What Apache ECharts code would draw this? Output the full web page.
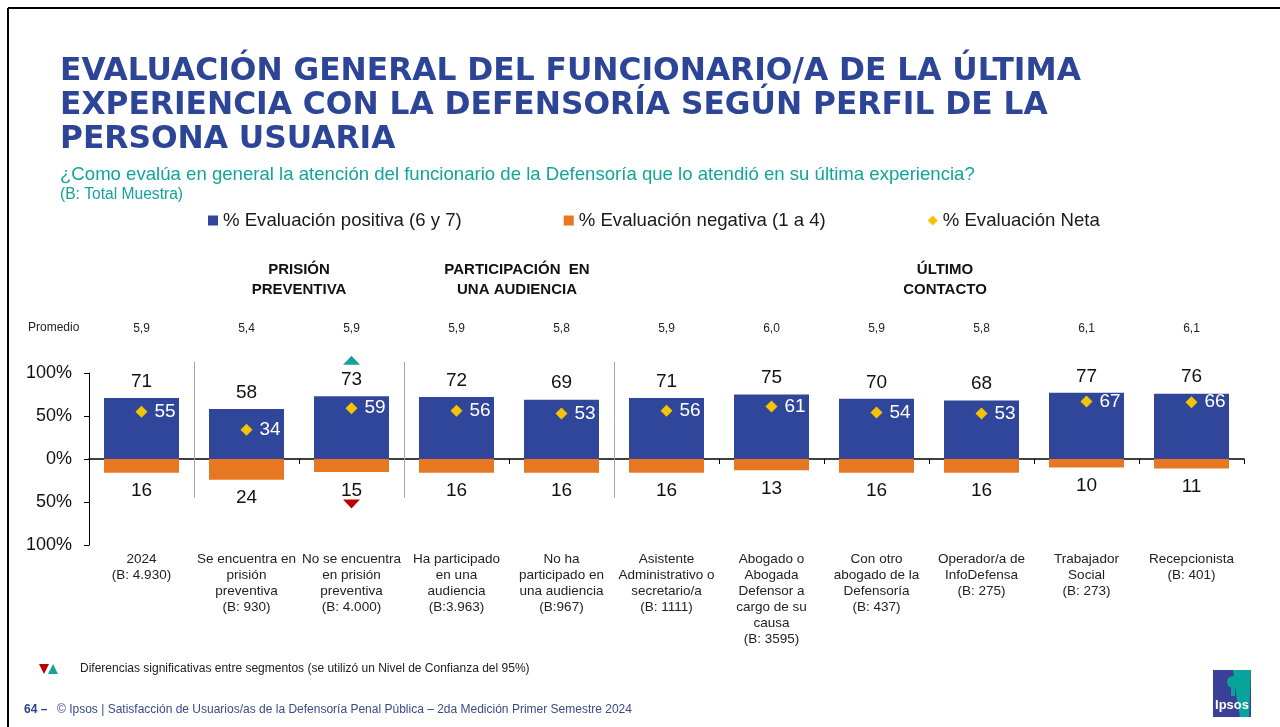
<!DOCTYPE html>
<html>
<head>
<meta charset="utf-8">
<script src="https://cdn.jsdelivr.net/npm/echarts@6/dist/echarts.min.js"></script>
<style>
html,body{margin:0;padding:0;background:#fff;}
#main{width:1280px;height:727px;}
</style>
</head>
<body>
<div id="main"></div>
<script>
// ---------- DATA ----------
const categories = [
  '2024\n(B: 4.930)',
  'Se encuentra en\nprisión\npreventiva\n(B: 930)',
  'No se encuentra\nen prisión\npreventiva\n(B: 4.000)',
  'Ha participado\nen una\naudiencia\n(B:3.963)',
  'No ha\nparticipado en\nuna audiencia\n(B:967)',
  'Asistente\nAdministrativo o\nsecretario/a\n(B: 1111)',
  'Abogado o\nAbogada\nDefensor a\ncargo de su\ncausa\n(B: 3595)',
  'Con otro\nabogado de la\nDefensoría\n(B: 437)',
  'Operador/a de\nInfoDefensa\n(B: 275)',
  'Trabajador\nSocial\n(B: 273)',
  'Recepcionista\n(B: 401)'
];
const positiva = [71, 58, 73, 72, 69, 71, 75, 70, 68, 77, 76];
const negativa = [16, 24, 15, 16, 16, 16, 13, 16, 16, 10, 11];
const neta = [55, 34, 59, 56, 53, 56, 61, 54, 53, 67, 66];
const promedio = ['5,9', '5,4', '5,9', '5,9', '5,8', '5,9', '6,0', '5,9', '5,8', '6,1', '6,1'];
// significance flags: 1 = significantly different (marker shown)
const sigPositiva = [0, 0, 1, 0, 0, 0, 0, 0, 0, 0, 0];
const sigNegativa = [0, 0, 1, 0, 0, 0, 0, 0, 0, 0, 0];
const yTicks = [-100, -50, 0, 50, 100];
const seriesNames = ['% Evaluación positiva (6 y 7)', '% Evaluación negativa (1 a 4)', '% Evaluación Neta'];

// ---------- STYLE ----------
const BLUE = '#30469A';
const ORANGE = '#E87722';
const YELLOW = '#F5C400';
const TEAL = '#13A39A';
const RED = '#C00000';
const TITLE_BLUE = '#2D4596';

const chart = echarts.init(document.getElementById('main'), null, {renderer: 'canvas'});

const option = {
  animation: false,
  backgroundColor: '#fff',
  textStyle: {fontFamily: 'Liberation Sans, Arial, sans-serif'},
  legend: {
    data: [
      {name: seriesNames[0], icon: 'rect'},
      {name: seriesNames[1], icon: 'rect'},
      {name: seriesNames[2], icon: 'diamond'}
    ],
    left: 203,
    top: 206,
    itemWidth: 10,
    itemHeight: 10,
    itemGap: 102,
    selectedMode: false,
    textStyle: {fontSize: 18.6, color: '#1a1a1a', fontFamily: 'Liberation Sans, Arial, sans-serif'}
  },
  grid: {left: 89, right: 36, top: 373, bottom: 182, containLabel: false},
  xAxis: [
    {
      type: 'category',
      data: categories,
      position: 'bottom',
      axisLine: {show: false, onZero: false},
      axisTick: {show: false},
      axisLabel: {
        interval: 0, margin: 6, fontSize: 13.5, lineHeight: 16, color: '#222',
        fontFamily: 'Liberation Sans, Arial, sans-serif', overflow: 'none'
      }
    },
    {
      type: 'category',
      data: categories,
      position: 'bottom',
      axisLine: {show: true, onZero: true, lineStyle: {color: '#000', width: 1.5}},
      axisTick: {show: true, length: 5, interval: 0, lineStyle: {color: '#000'}},
      axisLabel: {show: false}
    },
    {
      type: 'category',
      data: categories,
      position: 'top',
      axisLine: {show: false, onZero: false},
      axisTick: {show: false},
      axisLabel: {
        interval: 0, margin: 38, fontSize: 12, color: '#222',
        formatter: (v, i) => promedio[i]
      }
    }
  ],
  yAxis: {
    type: 'value',
    min: yTicks[0],
    max: yTicks[yTicks.length - 1],
    interval: 50,
    axisLine: {show: true, lineStyle: {color: '#000', width: 1}},
    axisTick: {show: true, length: 5, lineStyle: {color: '#000'}},
    splitLine: {show: false},
    axisLabel: {
      fontSize: 18, color: '#111', margin: 17,
      formatter: v => Math.abs(v) + '%'
    }
  },
  series: [
    {
      name: seriesNames[0],
      type: 'bar',
      xAxisIndex: 0,
      data: positiva,
      barWidth: 75,
      barGap: '-100%',
      itemStyle: {color: BLUE},
      label: {show: true, position: 'top', distance: 7, fontSize: 19, color: '#111'}
    },
    {
      name: seriesNames[1],
      type: 'bar',
      xAxisIndex: 0,
      data: negativa.map(v => -v),
      barWidth: 75,
      barGap: '-100%',
      itemStyle: {color: ORANGE},
      label: {show: true, position: 'bottom', distance: 9, fontSize: 19, color: '#111',
        formatter: p => Math.abs(p.value)}
    },
    {
      name: seriesNames[2],
      type: 'scatter',
      xAxisIndex: 0,
      data: neta,
      symbol: 'diamond',
      symbolSize: 12,
      itemStyle: {color: YELLOW, opacity: 1},
      z: 5,
      label: {show: true, position: 'right', distance: 7, fontSize: 19, color: '#fff'}
    },
    {
      name: 'sig-up',
      type: 'scatter',
      xAxisIndex: 0,
      data: positiva.map((v, i) => sigPositiva[i] ? v : '-'),
      symbol: 'triangle',
      symbolSize: [17, 9],
      symbolOffset: [0, -36],
      itemStyle: {color: TEAL, opacity: 1},
      z: 5,
      silent: true
    },
    {
      name: 'sig-down',
      type: 'scatter',
      xAxisIndex: 0,
      data: negativa.map((v, i) => sigNegativa[i] ? -v : '-'),
      symbol: 'triangle',
      symbolRotate: 180,
      symbolSize: [17, 9],
      symbolOffset: [0, 32],
      itemStyle: {color: RED, opacity: 1},
      z: 5,
      silent: true
    }
  ]
};

chart.setOption(option);

// ---------- decorations positioned from the axes ----------
const cx = i => chart.convertToPixel({xAxisIndex: 0}, i);
const py = v => chart.convertToPixel({yAxisIndex: 0}, v);
const band = cx(1) - cx(0);
const sepTop = py(113), sepBot = py(-45);
const separatorsAfter = [0, 2, 4];

const FF = 'Liberation Sans, Arial, sans-serif';
const g = [];
// frame
g.push({type: 'line', shape: {x1: 8, y1: 8, x2: 1280, y2: 8}, style: {stroke: '#000', lineWidth: 2}});
g.push({type: 'line', shape: {x1: 8, y1: 8, x2: 8, y2: 727}, style: {stroke: '#000', lineWidth: 2}});
// title
const titleLines = [
  'EVALUACIÓN GENERAL DEL FUNCIONARIO/A DE LA ÚLTIMA',
  'EXPERIENCIA CON LA DEFENSORÍA SEGÚN PERFIL DE LA',
  'PERSONA USUARIA'
];
titleLines.forEach((t, k) => {
  g.push({type: 'text', x: 60, y: 72 + k * 34, style: {
    text: t, fill: TITLE_BLUE, fontSize: 31.3, fontWeight: 'bold', fontFamily: 'DejaVu Sans',
    align: 'left', verticalAlign: 'middle'}});
});
g.push({type: 'text', x: 60, y: 175, style: {
  text: '¿Como evalúa en general la atención del funcionario de la Defensoría que lo atendió en su última experiencia?',
  fill: TEAL, fontSize: 18.6, fontFamily: FF, align: 'left', verticalAlign: 'middle'}});
g.push({type: 'text', x: 60, y: 195, style: {
  text: '(B: Total Muestra)', fill: TEAL, fontSize: 15.6, fontFamily: FF, align: 'left', verticalAlign: 'middle'}});
// group headers
const headers = [
  {text: 'PRISIÓN\nPREVENTIVA', x: (cx(1) + cx(2)) / 2},
  {text: 'PARTICIPACIÓN  EN\nUNA AUDIENCIA', x: (cx(3) + cx(4)) / 2 + 8},
  {text: 'ÚLTIMO\nCONTACTO', x: (cx(5) + cx(10)) / 2 + 16}
];
headers.forEach(h => {
  g.push({type: 'text', x: h.x, y: 280, style: {
    text: h.text, fill: '#111', fontSize: 15, fontWeight: 'bold', fontFamily: FF,
    lineHeight: 20, align: 'center', verticalAlign: 'middle'}});
});
// Promedio
g.push({type: 'text', x: 28, y: 328, style: {
  text: 'Promedio', fill: '#222', fontSize: 12, fontFamily: FF, align: 'left', verticalAlign: 'middle'}});
// separators
separatorsAfter.forEach(i => {
  const x = Math.round(cx(i) + band / 2) + 0.5;
  g.push({type: 'line', shape: {x1: x, y1: sepTop, x2: x, y2: sepBot}, style: {stroke: '#A6A6A6', lineWidth: 1}, z: 10});
});
// significance note
g.push({type: 'polygon', shape: {points: [[39, 664], [49, 664], [44, 674]]}, style: {fill: RED}});
g.push({type: 'polygon', shape: {points: [[48, 674], [58, 674], [53, 664]]}, style: {fill: TEAL}});
g.push({type: 'text', x: 80, y: 669, style: {
  text: 'Diferencias significativas entre segmentos (se utilizó un Nivel de Confianza del 95%)',
  fill: '#222', fontSize: 12, fontFamily: FF, align: 'left', verticalAlign: 'middle'}});
// footer
g.push({type: 'text', x: 24, y: 710, style: {
  text: '64 –', fill: '#2E3E8F', fontSize: 12, fontWeight: 'bold', fontFamily: FF, align: 'left', verticalAlign: 'middle'}});
g.push({type: 'text', x: 57, y: 710, style: {
  text: '© Ipsos | Satisfacción de Usuarios/as de la Defensoría Penal Pública – 2da Medición Primer Semestre 2024',
  fill: '#3C4A86', fontSize: 12, fontFamily: FF, align: 'left', verticalAlign: 'middle'}});
// Ipsos logo
g.push({type: 'rect', shape: {x: 1213, y: 670, width: 38, height: 47}, style: {fill: '#3A3F98'}});
g.push({type: 'polygon', shape: {points: [[1233, 670], [1251, 670], [1249, 717], [1240, 717], [1237, 700], [1235, 685]]}, style: {fill: '#0AA39A'}});
g.push({type: 'circle', shape: {cx: 1233, cy: 682, r: 6}, style: {fill: '#0AA39A'}});
g.push({type: 'rect', shape: {x: 1231, y: 686, width: 4, height: 10}, style: {fill: '#0AA39A'}});
g.push({type: 'text', x: 1232, y: 705, style: {
  text: 'Ipsos', fill: '#fff', fontSize: 13, fontWeight: 'bold', fontFamily: FF, align: 'center', verticalAlign: 'middle'}});

chart.setOption({graphic: g});
</script>
</body>
</html>
